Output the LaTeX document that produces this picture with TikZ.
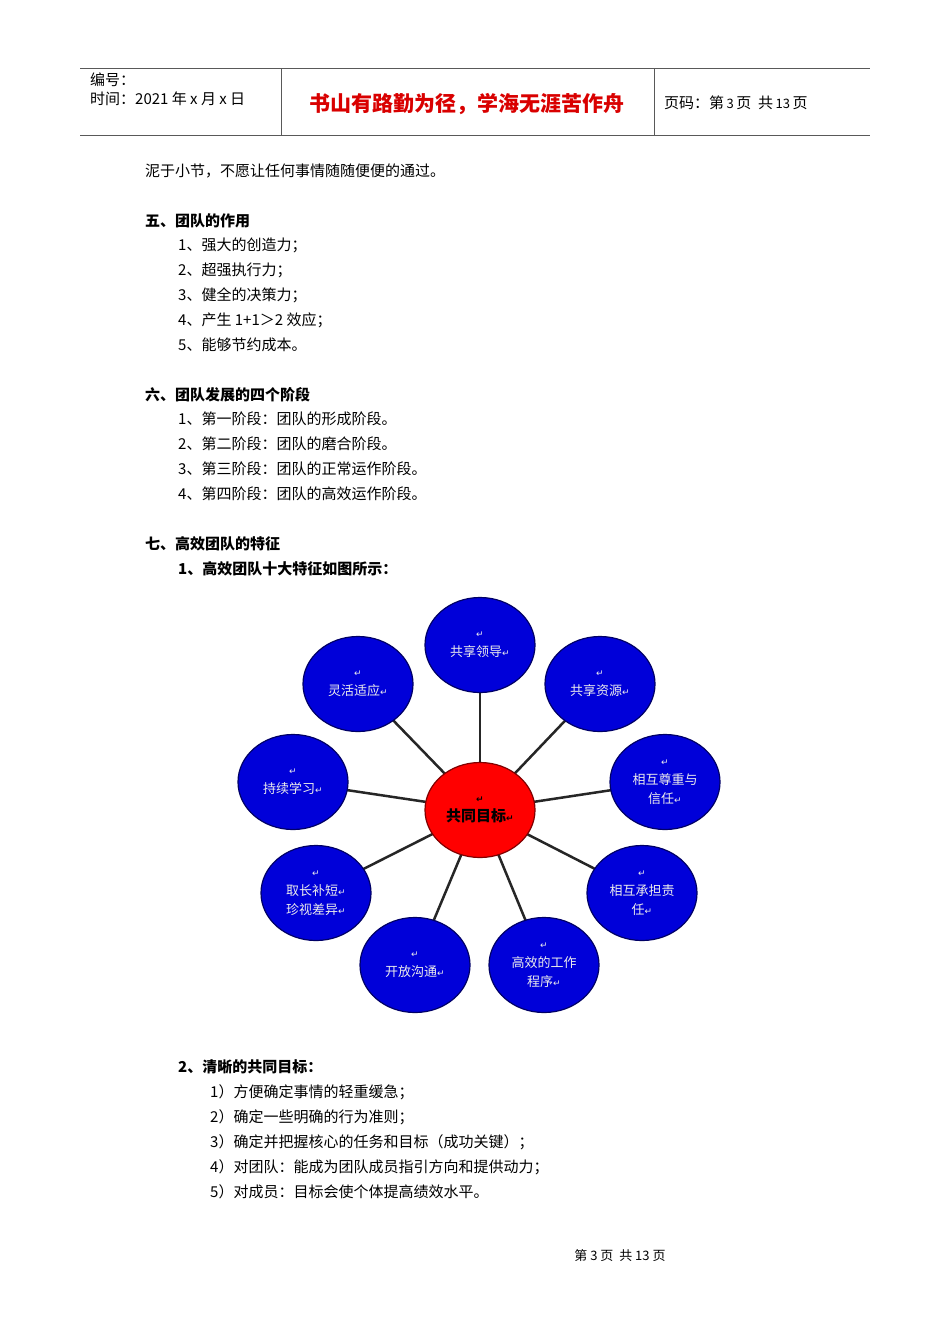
\documentclass[tikz,border=0pt]{standalone}
\usepackage{fontspec}
\setmainfont{Noto Sans CJK SC}
\newfontfamily\arrowfont{DejaVu Sans}
\usetikzlibrary{shapes.geometric}
\begin{document}
\begin{tikzpicture}[x=1pt,y=-1pt,
  txt/.style={anchor=west,inner sep=0,font=\fontsize{15}{15}\selectfont},
  hd/.style={txt,font=\fontsize{15}{15}\selectfont\bfseries},
  bub/.style={ellipse,draw=blue!40!black,line width=1.2pt,fill=blue!85!black,minimum width=110pt,minimum height=95pt,inner sep=0,text=white!85!gray,align=center,font=\fontsize{13}{19}\selectfont},
  ctr/.style={bub,fill=red,draw=red!50!black,text=black,font=\fontsize{15}{19}\selectfont\bfseries},
  spoke/.style={line width=2.5pt,draw=black!85}]
\useasboundingbox (0,0) rectangle (950,1344);
\fill[white] (0,0) rectangle (950,1344);
% header
\draw[gray!70!black,line width=0.8pt] (80,68) -- (870,68) (80,135) -- (870,135) (281,68) -- (281,135) (654,68) -- (654,135);
\node[txt] (h1) at (90,80) {编号：};
\node[txt] (h2) at (90,99) {时间：2021 年 x 月 x 日};
\node[inner sep=0,text=red!85!black,font=\fontsize{21}{21}\selectfont\bfseries] (h3) at (467,104) {书山有路勤为径，学海无涯苦作舟};
\node[txt] (h4) at (664,103) {页码：第\,{\fontsize{13}{13}\selectfont 3}\,页\ \ 共\,{\fontsize{13}{13}\selectfont 13}\,页};
% body
\node[txt] (t0) at (145,171) {泥于小节，不愿让任何事情随随便便的通过。};
\node[hd] (s5) at (145,221) {五、团队的作用};
\node[txt] (a1) at (178,245) {1、强大的创造力；};
\node[txt] (a2) at (178,270) {2、超强执行力；};
\node[txt] (a3) at (178,295) {3、健全的决策力；};
\node[txt] (a4) at (178,320) {4、产生 1+1＞2 效应；};
\node[txt] (a5) at (178,345) {5、能够节约成本。};
\node[hd] (s6) at (145,395) {六、团队发展的四个阶段};
\node[txt] (b1) at (178,419) {1、第一阶段：团队的形成阶段。};
\node[txt] (b2) at (178,444) {2、第二阶段：团队的磨合阶段。};
\node[txt] (b3) at (178,469) {3、第三阶段：团队的正常运作阶段。};
\node[txt] (b4) at (178,494) {4、第四阶段：团队的高效运作阶段。};
\node[hd] (s7) at (145,544) {七、高效团队的特征};
\node[hd] (c1) at (178,569) {1、高效团队十大特征如图所示：};
% diagram
\def\rt{{\arrowfont\fontsize{9}{9}\selectfont ↵}}
\coordinate (c) at (480,810);
\coordinate (n1) at (480,645);
\coordinate (n2) at (600,684);
\coordinate (n3) at (665,782);
\coordinate (n4) at (642,893);
\coordinate (n5) at (544,965);
\coordinate (n6) at (415,965);
\coordinate (n7) at (316,893);
\coordinate (n8) at (293,782);
\coordinate (n9) at (358,684);
\foreach \n in {n1,n2,n3,n4,n5,n6,n7,n8,n9} \draw[spoke] (c) -- (\n);
\node[bub] (b1) at (n1) {\rt\\共享领导\rt};
\node[bub] (b2) at (n2) {\rt\\共享资源\rt};
\node[bub] (b3) at (n3) {\rt\\相互尊重与\\信任\rt};
\node[bub] (b4) at (n4) {\rt\\相互承担责\\任\rt};
\node[bub] (b5) at (n5) {\rt\\高效的工作\\程序\rt};
\node[bub] (b6) at (n6) {\rt\\开放沟通\rt};
\node[bub] (b7) at (n7) {\rt\\取长补短\rt\\珍视差异\rt};
\node[bub] (b8) at (n8) {\rt\\持续学习\rt};
\node[bub] (b9) at (n9) {\rt\\灵活适应\rt};
\node[ctr] (cc) at (c) {\rt\\共同目标\rt};
% after diagram
\node[hd] (d0) at (178,1067) {2、清晰的共同目标：};
\node[txt] (d1) at (210,1092) {1）方便确定事情的轻重缓急；};
\node[txt] (d2) at (210,1117) {2）确定一些明确的行为准则；};
\node[txt] (d3) at (210,1142) {3）确定并把握核心的任务和目标（成功关键）；};
\node[txt] (d4) at (210,1167) {4）对团队：能成为团队成员指引方向和提供动力；};
\node[txt] (d5) at (210,1192) {5）对成员：目标会使个体提高绩效水平。};
\node[inner sep=0,font=\fontsize{13}{13}\selectfont] (f) at (620,1256) {第\ 3\ 页\ \ 共\ 13\ 页};
\end{tikzpicture}
\end{document}
